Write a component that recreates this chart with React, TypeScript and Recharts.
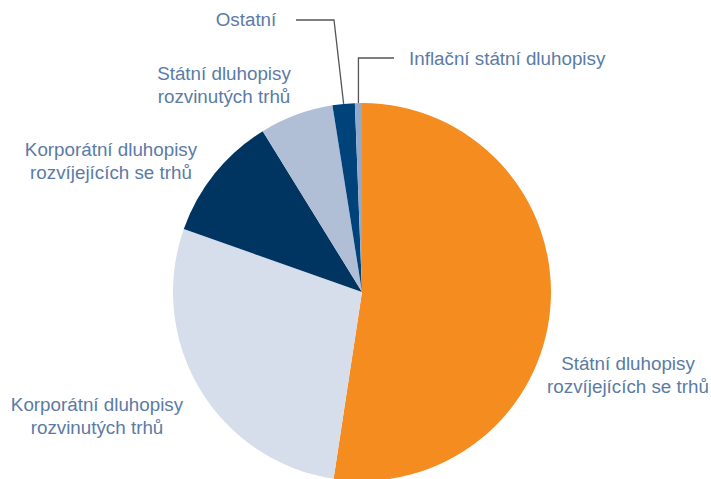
import React from 'react';
import { PieChart, Pie, Cell } from 'recharts';

// Podíly jednotlivých složek (v %), pořadí po směru hodinových ručiček od 12 h
const categories = [
  'Státní dluhopisy rozvíjejících se trhů',
  'Korporátní dluhopisy rozvinutých trhů',
  'Korporátní dluhopisy rozvíjejících se trhů',
  'Státní dluhopisy rozvinutých trhů',
  'Ostatní',
  'Inflační státní dluhopisy',
];
const shares = [52.4, 28.0, 10.8, 6.3, 1.9, 0.6];
const colors = ['#F58C1F', '#D6DEEB', '#003461', '#B1BFD6', '#00437A', '#94A9C9'];

// Popisky po řádcích
const labelLines = [
  ['Státní dluhopisy', 'rozvíjejících se trhů'],
  ['Korporátní dluhopisy', 'rozvinutých trhů'],
  ['Korporátní dluhopisy', 'rozvíjejících se trhů'],
  ['Státní dluhopisy', 'rozvinutých trhů'],
  ['Ostatní'],
  ['Inflační státní dluhopisy'],
];

const data = categories.map((name, i) => ({ name, value: shares[i] }));

const RADIAN = Math.PI / 180;
const TEXT = '#5B7BA6';
const FONT = '"Liberation Sans", Arial, sans-serif';

const renderLabel = (props: any) => {
  const { cx, cy, midAngle, outerRadius, index } = props;
  const lines = labelLines[index];
  const ex = cx + outerRadius * Math.cos(-midAngle * RADIAN);
  const ey = cy + outerRadius * Math.sin(-midAngle * RADIAN);

  const txt = (x: number, y: number, anchor: string) => (
    <text x={x} y={y} fill={TEXT} fontSize={18.8} fontFamily={FONT} textAnchor={anchor} dominantBaseline="central">
      {lines.map((l, k) => (
        <tspan key={k} x={x} dy={k === 0 ? 0 : 23}>{l}</tspan>
      ))}
    </text>
  );

  switch (index) {
    case 0:
      return <g key={index}>{txt(628, 363, 'middle')}</g>;
    case 1:
      return <g key={index}>{txt(97, 404, 'middle')}</g>;
    case 2:
      return <g key={index}>{txt(111, 149, 'middle')}</g>;
    case 3:
      return <g key={index}>{txt(224, 73, 'middle')}</g>;
    case 4:
      return (
        <g key={index}>
          <polyline points={`${ex},${ey} 334,20 296,20`} fill="none" stroke="#555" strokeWidth={1.3} />
          {txt(246, 19, 'middle')}
        </g>
      );
    default:
      return (
        <g key={index}>
          <polyline points={`${ex},${ey} ${ex},58 394,58`} fill="none" stroke="#555" strokeWidth={1.3} />
          {txt(409, 58, 'start')}
        </g>
      );
  }
};

export default function App() {
  return (
    <div style={{ position: 'absolute', left: 0, top: 0, width: 711, height: 479, background: '#fff' }}>
      <PieChart width={711} height={479} margin={{ top: 0, right: 0, bottom: 0, left: 0 }}>
        <Pie
          data={data}
          dataKey="value"
          cx={362}
          cy={292}
          outerRadius={189}
          startAngle={90}
          endAngle={-270}
          stroke="none"
          label={renderLabel}
          labelLine={false}
          isAnimationActive={false}
        >
          {data.map((d, i) => (
            <Cell key={d.name} fill={colors[i]} />
          ))}
        </Pie>
      </PieChart>
    </div>
  );
}
